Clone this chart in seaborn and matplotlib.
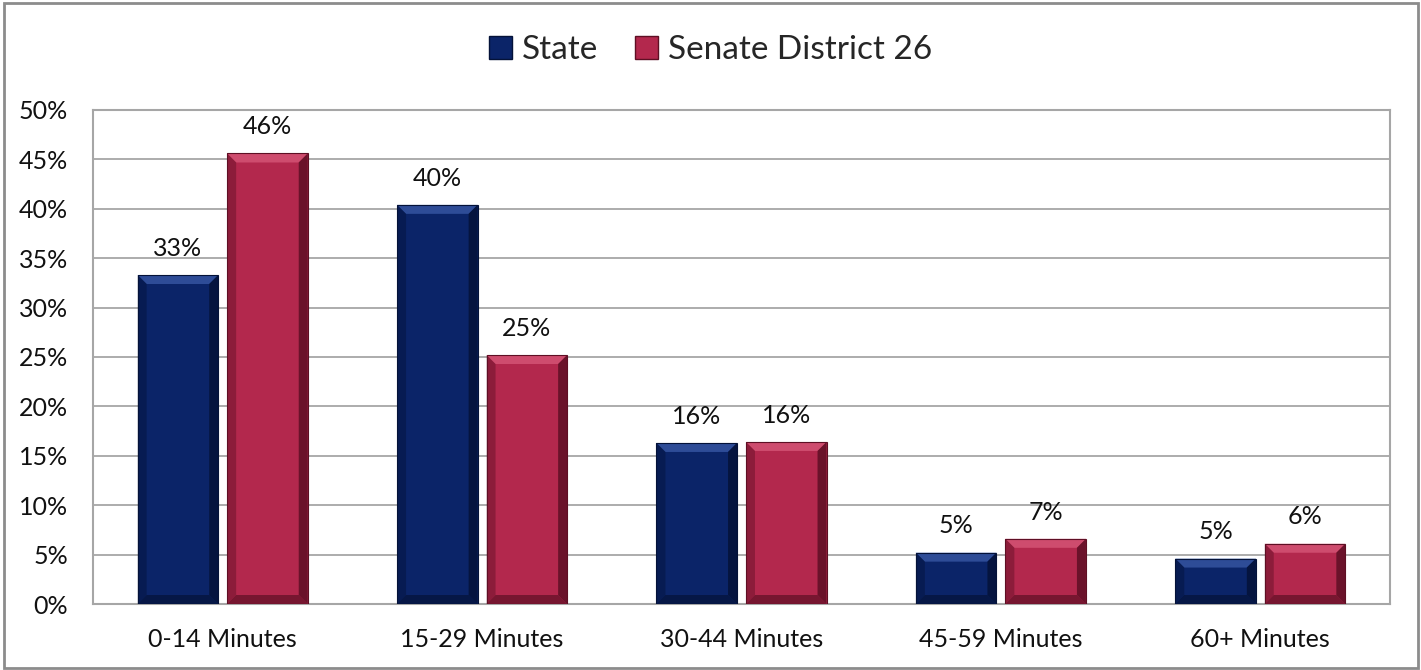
import numpy as np
import pandas as pd
import matplotlib
matplotlib.use("Agg")
import matplotlib.pyplot as plt
import seaborn as sns
from matplotlib.patches import Polygon, Rectangle, Patch
from matplotlib.transforms import IdentityTransform

categories = ["0-14 Minutes", "15-29 Minutes", "30-44 Minutes", "45-59 Minutes", "60+ Minutes"]
series_names = ["State", "Senate District 26"]
state_values = [33.3, 40.4, 16.3, 5.2, 4.6]
district_values = [45.6, 25.2, 16.4, 6.6, 6.1]
y_ticks = [0, 5, 10, 15, 20, 25, 30, 35, 40, 45, 50]
colors = {"State": "#0b2468", "Senate District 26": "#b3284d"}
dark = {"State": "#041238", "Senate District 26": "#5e0f24"}
light = {"State": "#3a5aa8", "Senate District 26": "#d8597a"}

df = pd.DataFrame({
    "category": categories * 2,
    "series": [series_names[0]] * 5 + [series_names[1]] * 5,
    "value": state_values + district_values,
})

sns.set_theme(style="white")
plt.rcParams["font.family"] = ["Lato", "DejaVu Sans"]

fig = plt.figure(figsize=(14.21, 6.70), dpi=100)
ax = fig.add_axes([93 / 1421, 1 - 604 / 670, (1390 - 93) / 1421, (604 - 110) / 670])

sns.barplot(data=df, x="category", y="value", hue="series", order=categories,
            hue_order=series_names, palette=colors, width=0.69, gap=0.1,
            saturation=1, ax=ax, legend=False, edgecolor="none", zorder=3)

ax.set_ylim(0, 50)
ax.set_xlim(-0.5, len(categories) - 0.5)
ax.set_yticks(y_ticks)
ax.set_yticklabels([f"{t}%" for t in y_ticks], fontsize=18, color="#111111")
ax.tick_params(axis="x", labelsize=18, colors="#111111", length=0, pad=17)
ax.tick_params(axis="y", length=0, pad=18)
ax.set_xlabel("")
ax.set_ylabel("")
ax.yaxis.grid(True, color="#a6a6a6", linewidth=1.3, zorder=0)
ax.set_axisbelow(True)
for s in ax.spines.values():
    s.set_visible(True)
    s.set_color("#a6a6a6")
    s.set_linewidth(1.5)

# bevel shading and labels
fig.canvas.draw()
for container, name in zip(ax.containers, series_names):
    for bar in container:
        x0, y0 = bar.get_x(), bar.get_y()
        w, h = bar.get_width(), bar.get_height()
        (px0, py0) = ax.transData.transform((x0, y0))
        (px1, py1) = ax.transData.transform((x0 + w, y0 + h))
        b = min(9, (py1 - py0) / 3)
        polys = [
            ([(px0, py1), (px1, py1), (px1 - b, py1 - b), (px0 + b, py1 - b)], light[name], 0.75),
            ([(px1, py1), (px1, py0), (px1 - b, py0 + b), (px1 - b, py1 - b)], dark[name], 0.85),
            ([(px0, py0), (px1, py0), (px1 - b, py0 + b), (px0 + b, py0 + b)], dark[name], 0.7),
            ([(px0, py0), (px0, py1), (px0 + b, py1 - b), (px0 + b, py0 + b)], dark[name], 0.45),
        ]
        for pts, c, a in polys:
            ax.add_patch(Polygon(pts, closed=True, facecolor=c, edgecolor="none", alpha=a,
                                 transform=IdentityTransform(), zorder=4))
        ax.add_patch(Rectangle((px0, py0), px1 - px0, py1 - py0, facecolor="none",
                               edgecolor=dark[name], linewidth=0.8, transform=IdentityTransform(), zorder=5))
        ax.annotate(f"{h:.0f}%", (x0 + w / 2, y0 + h), xytext=(0, 11), textcoords="offset points",
                    ha="center", va="bottom", fontsize=18, color="#111111")

handles = [Patch(facecolor=colors[n], edgecolor=dark[n], label=n) for n in series_names]
fig.legend(handles=handles, loc="center", bbox_to_anchor=(0.5, 1 - 50 / 670), ncol=2,
           frameon=False, fontsize=24, handlelength=0.7, handleheight=0.7,
           handletextpad=0.3, columnspacing=1.1)

fig.patches.append(Rectangle((4 / 1421, 2 / 670), 1414 / 1421, 665 / 670, transform=fig.transFigure,
                             facecolor="none", edgecolor="#8c8c8c", linewidth=2, zorder=10))

fig.savefig("out.png", dpi=100, facecolor="white")
